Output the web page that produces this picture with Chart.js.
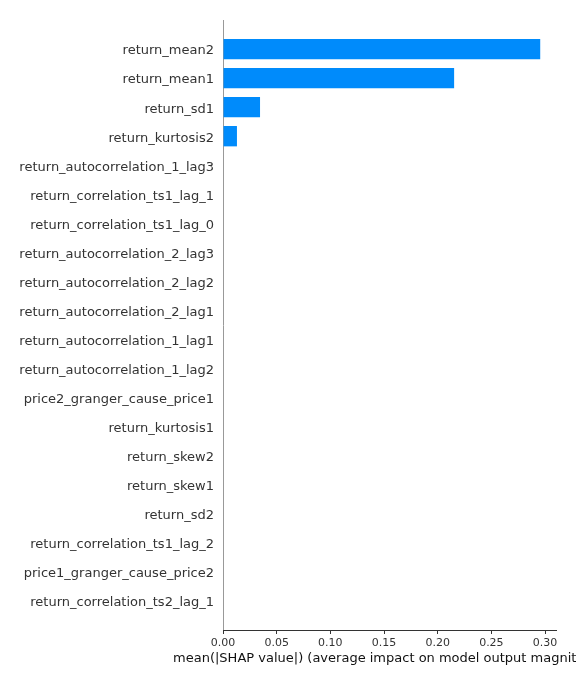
<!DOCTYPE html>
<html>
<head>
<meta charset="utf-8">
<script src="https://cdn.jsdelivr.net/npm/chart.js@4"></script>
<style>
  body { margin: 0; background: #fff; }
  #wrap { width: 576px; height: 684px; }
</style>
</head>
<body>
<div id="wrap"><canvas id="shapChart"></canvas></div>
<script>
// Features, most important first
const features = [
    'return_mean2', 'return_mean1', 'return_sd1', 'return_kurtosis2',
    'return_autocorrelation_1_lag3', 'return_correlation_ts1_lag_1',
    'return_correlation_ts1_lag_0', 'return_autocorrelation_2_lag3',
    'return_autocorrelation_2_lag2', 'return_autocorrelation_2_lag1',
    'return_autocorrelation_1_lag1', 'return_autocorrelation_1_lag2',
    'price2_granger_cause_price1', 'return_kurtosis1', 'return_skew2',
    'return_skew1', 'return_sd2', 'return_correlation_ts1_lag_2',
    'price1_granger_cause_price2', 'return_correlation_ts2_lag_1'
];
// mean(|SHAP value|)
const meanShap = [0.2955, 0.2153, 0.0345, 0.013, 0, 0, 0, 0, 0, 0,
                  0, 0, 0, 0, 0, 0, 0, 0, 0, 0];
const xTicks = [0, 0.05, 0.10, 0.15, 0.20, 0.25, 0.30];
const xLabel = 'mean(|SHAP value|) (average impact on model output magnitude)';

const font = 'DejaVu Sans';

// Chart.js squeezes axis titles to the scale width, so draw the x label by hand
const xLabelPlugin = {
    id: 'xLabel',
    afterDraw(chart) {
        const ctx = chart.ctx;
        const xs = chart.scales.x;
        ctx.save();
        ctx.font = '13px "' + font + '"';
        ctx.fillStyle = '#111111';
        ctx.textAlign = 'center';
        ctx.textBaseline = 'alphabetic';
        ctx.fillText(xLabel, (xs.left + xs.right) / 2, 662);
        ctx.restore();
    }
};

const shapChart = new Chart(document.getElementById('shapChart'), {
    type: 'bar',
    data: {
        datasets: [{
            data: meanShap.map((v, i) => ({ x: v, y: i })),
            backgroundColor: '#008bfb',
            borderWidth: 0,
            categoryPercentage: 1,
            barPercentage: 0.7
        }]
    },
    options: {
        indexAxis: 'y',
        responsive: true,
        maintainAspectRatio: false,
        animation: false,
        layout: { padding: { top: 20, right: 20, left: 0, bottom: 0 } },
        plugins: { legend: { display: false }, tooltip: { enabled: false } },
        scales: {
            y: {
                type: 'linear',
                offset: false,
                min: -1,
                max: features.length,
                reverse: true,
                afterFit: scale => { scale.width = 223; },
                afterBuildTicks: scale => {
                    scale.ticks = features.map((f, i) => ({ value: i }));
                },
                grid: { display: false, drawTicks: false },
                border: { display: true, color: '#999999', width: 1 },
                ticks: {
                    autoSkip: false,
                    padding: 9,
                    labelOffset: 2,
                    color: '#333333',
                    font: { family: font, size: 13 },
                    callback: v => features[v] ?? ''
                }
            },
            x: {
                type: 'linear',
                min: 0,
                max: 0.3102,
                afterFit: scale => { scale.height = 54; },
                afterBuildTicks: scale => {
                    scale.ticks = xTicks.map(v => ({ value: v }));
                },
                grid: { drawOnChartArea: false, drawTicks: true, tickLength: 4, color: '#333333' },
                border: { display: true, color: '#333333', width: 1 },
                ticks: {
                    autoSkip: false,
                    maxRotation: 0,
                    padding: 3,
                    color: '#333333',
                    font: { family: font, size: 11 },
                    callback: v => v.toFixed(2)
                }
            }
        }
    },
    plugins: [xLabelPlugin]
});
</script>
</body>
</html>
